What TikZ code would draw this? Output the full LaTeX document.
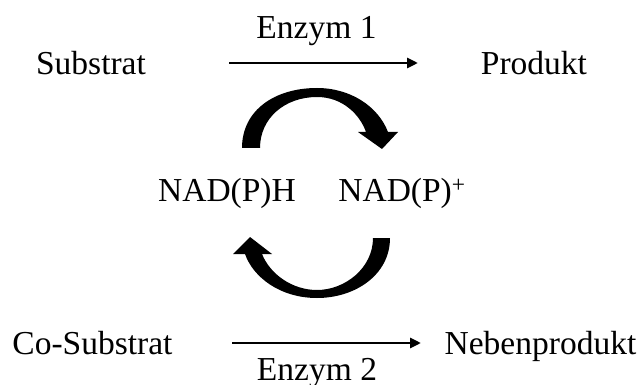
\documentclass[tikz,border=0pt]{standalone}
\usepackage{fontspec}
\setmainfont{Liberation Serif}
\usetikzlibrary{arrows.meta}
\begin{document}
\begin{tikzpicture}[x={(1pt,0)},y={(0,-1pt)},
  lbl/.style={inner sep=0pt,anchor=base,font=\fontsize{33.5}{40}\selectfont},
  rxn/.style={line width=2.9pt,-{Triangle[length=11pt,width=10pt]}},
  turn/.style={fill=black,draw=none}]
\useasboundingbox (0,0) rectangle (643,385);
% species and enzymes (placed on their baselines)
\node[lbl] (sub)  at (91,75)  {Substrat};
\node[lbl] (prod) at (534,75) {Produkt};
\node[lbl] (e1)   at (316.5,39) {Enzym 1};
\node[lbl] (nadh) at (227,202) {NAD(P)H};
\node[lbl] (nadp) at (402,202) {NAD(P)\textsuperscript{+}};
\node[lbl] (cosub) at (92.5,354) {Co-Substrat};
\node[lbl] (neben) at (540.5,354) {Nebenprodukt};
\node[lbl] (e2)   at (317,380) {Enzym 2};
% reaction arrows
\coordinate (r1a) at (229,63);
\coordinate (r1b) at (418,63);
\coordinate (r2a) at (232,343);
\coordinate (r2b) at (421,343);
\draw[rxn] (r1a) -- (r1b);
\draw[rxn] (r2a) -- (r2b);
% upper cofactor turn arrow
\fill[turn] (242,148) -- (260,148)
  .. controls (260,118) and (285,97) .. (317,97)
  .. controls (343,97) and (360,115) .. (366,132)
  -- (358,132) -- (382,149) -- (398,132) -- (388,132)
  .. controls (378,106) and (350,88) .. (317,88)
  .. controls (275,88) and (242,110) .. (242,148) -- cycle;
% lower cofactor turn arrow
\fill[turn] (373,238) -- (390,238)
  .. controls (390,275) and (355,298) .. (317,298)
  .. controls (280,298) and (253,277) .. (245,254)
  -- (233,254) -- (250,237) -- (272,254) -- (262,254)
  .. controls (270,274) and (292,290) .. (317,290)
  .. controls (345,290) and (373,268) .. (373,238) -- cycle;
\end{tikzpicture}
\end{document}
